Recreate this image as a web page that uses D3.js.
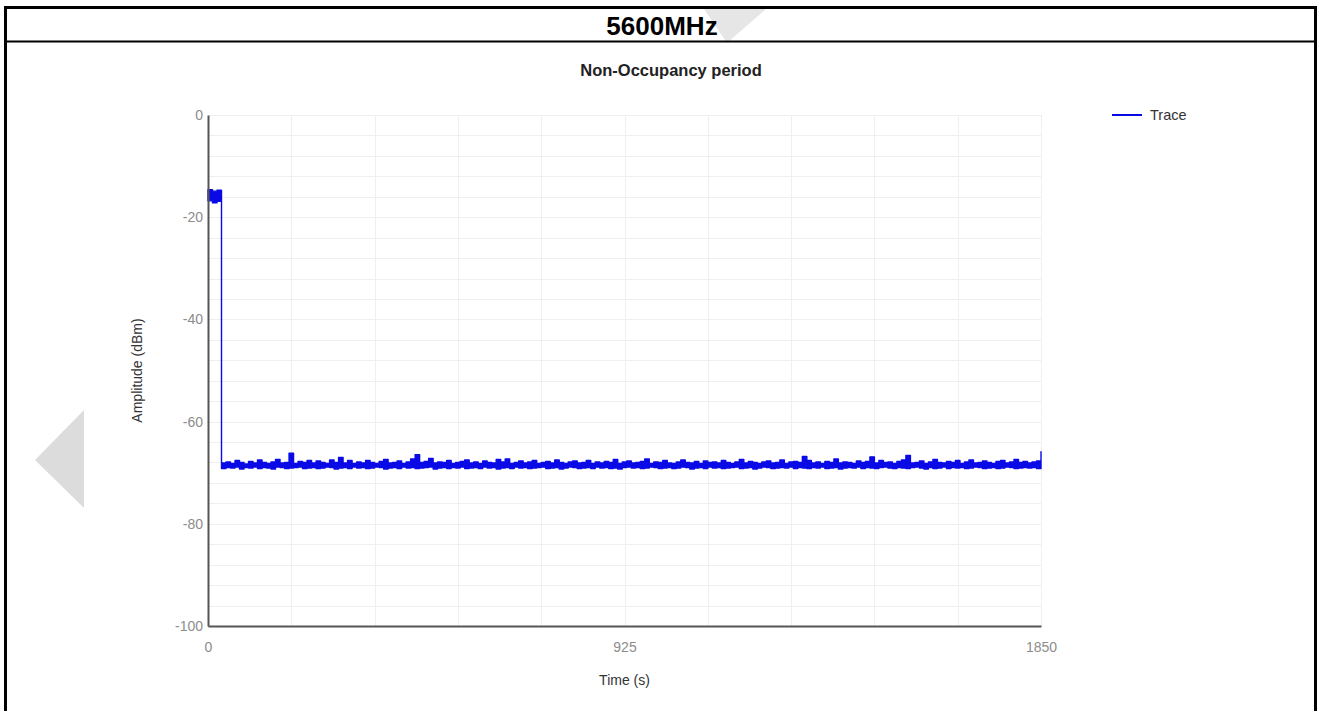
<!DOCTYPE html>
<html>
<head>
<meta charset="utf-8">
<script src="https://cdn.jsdelivr.net/npm/d3@7"></script>
<style>
  body { margin: 0; background: #fff; }
  svg { display: block; font-family: "Liberation Sans", Arial, sans-serif; }
</style>
</head>
<body>
<div id="chart"></div>
<script>
// Trace sampled every 10 s : max and min of each bin (decimated display)
const sampleStep = 10;
const traceHigh = [
  -14.6, -14.9, -14.7,
  -68.1, -67.9, -68.2, -67.6, -68.0, -68.3, -67.8, -68.1, -67.5, -68.0,
  -68.2, -67.9, -67.4, -68.1, -68.0, -66.2, -68.2, -67.8, -68.0, -67.6,
  -68.1, -67.7, -68.0, -68.2, -67.5, -68.0, -67.0, -68.1, -67.6, -68.2,
  -67.9, -68.1, -67.6, -68.0, -68.2, -67.8, -67.4, -68.1, -68.0, -67.7,
  -68.2, -67.9, -67.3, -66.5, -68.0, -67.8, -67.2, -68.1, -67.9, -68.0,
  -67.6, -68.2, -68.0, -67.8, -67.5, -68.1, -67.9, -68.2, -67.7, -68.0,
  -68.1, -67.4, -67.9, -67.3, -68.2, -68.0, -67.7, -68.1, -67.9, -67.6,
  -68.2, -68.0, -67.8, -68.1, -67.5, -68.0, -68.2, -67.9, -67.7, -68.1,
  -68.0, -67.6, -68.2, -67.9, -68.1, -67.8, -68.0, -67.4, -68.2, -67.9,
  -67.7, -68.1, -68.0, -67.8, -67.3, -68.2, -67.9, -68.0, -67.6, -68.1,
  -68.2, -67.9, -67.5, -68.0, -68.1, -67.8, -68.2, -67.7, -68.0, -67.9,
  -68.1, -67.6, -68.0, -68.2, -67.9, -67.4, -68.1, -67.8, -68.0, -68.2,
  -67.9, -67.7, -68.1, -68.0, -67.5, -68.2, -67.9, -67.8, -68.0, -66.8,
  -67.6, -68.1, -67.9, -68.2, -67.8, -68.0, -67.3, -68.1, -67.9, -68.0,
  -68.2, -67.7, -68.0, -67.8, -66.9, -68.1, -67.6, -68.0, -67.9, -68.2,
  -67.8, -67.5, -66.6, -68.1, -68.0, -67.7, -68.2, -67.9, -67.4, -68.0,
  -68.1, -67.8, -68.0, -67.6, -68.2, -67.9, -67.5, -68.1, -68.0, -67.7,
  -68.0, -68.2, -67.8, -67.6, -68.1, -67.9, -67.4, -68.0, -67.8, -68.1,
  -67.9, -67.7, -65.9
];
const traceLow = [
  -16.8, -17.2, -16.9,
  -69.2, -69.0, -69.1, -68.9, -69.3, -69.0, -69.1, -68.9, -69.2, -69.0,
  -69.1, -69.3, -68.9, -69.0, -69.2, -69.1, -69.0, -68.9, -69.2, -69.1,
  -69.0, -69.2, -69.1, -68.9, -69.0, -69.3, -69.1, -69.0, -69.2, -68.9,
  -69.1, -69.0, -69.2, -69.1, -68.9, -69.0, -69.3, -69.1, -69.0, -69.2,
  -68.9, -69.1, -69.0, -69.2, -69.1, -69.0, -68.9, -69.3, -69.1, -69.0,
  -69.2, -69.0, -69.1, -68.9, -69.2, -69.1, -69.0, -69.2, -68.9, -69.1,
  -69.0, -69.3, -69.1, -69.0, -69.2, -68.9, -69.1, -69.0, -69.2, -69.1,
  -69.0, -68.9, -69.2, -69.1, -69.0, -69.3, -69.1, -68.9, -69.0, -69.2,
  -69.1, -69.0, -69.2, -68.9, -69.1, -69.0, -69.2, -69.1, -69.3, -69.0,
  -68.9, -69.1, -69.0, -69.2, -69.1, -68.9, -69.0, -69.2, -69.1, -69.0,
  -69.2, -69.1, -68.9, -69.0, -69.3, -69.1, -69.0, -69.2, -68.9, -69.1,
  -69.0, -69.2, -69.1, -69.0, -68.9, -69.2, -69.1, -69.0, -69.3, -69.1,
  -68.9, -69.0, -69.2, -69.1, -69.0, -69.1, -68.9, -69.2, -69.0, -69.1,
  -69.2, -69.0, -69.1, -68.9, -69.2, -69.1, -69.0, -69.3, -69.1, -69.0,
  -69.1, -68.9, -69.2, -69.0, -69.1, -69.2, -69.0, -68.9, -69.1, -69.2,
  -69.0, -69.1, -69.2, -69.0, -68.9, -69.1, -69.3, -69.0, -69.2, -69.1,
  -68.9, -69.2, -69.0, -69.1, -69.0, -69.2, -69.1, -68.9, -69.0, -69.2,
  -69.1, -69.0, -69.2, -69.1, -68.9, -69.0, -69.2, -69.1, -69.0, -69.1,
  -69.0, -69.2, -69.1
];

const xTicks = [0, 925, 1850];
const yTicks = [0, -20, -40, -60, -80, -100];
const xGrid = [0, 185, 370, 555, 740, 925, 1110, 1295, 1480, 1665, 1850];
const yGrid = d3.range(0, -101, -4);

const pageTitle = "5600MHz";
const chartTitle = "Non-Occupancy period";
const xLabel = "Time (s)";
const yLabel = "Amplitude (dBm)";
const seriesName = "Trace";

const W = 1322, H = 711;
const margin = { top: 115, right: 281, bottom: 85, left: 208 };
const traceColor = "#0a0ae6";

const svg = d3.select("#chart").append("svg")
  .attr("width", W)
  .attr("height", H);

// watermark shapes behind everything
svg.append("polygon")
  .attr("points", "35,460 84,410 84,508")
  .attr("fill", "#dcdcdc");
svg.append("polygon")
  .attr("points", "704,9 766,9 727,43")
  .attr("fill", "#e6e6e6");

// page frame + header row
svg.append("rect")
  .attr("x", 5.5).attr("y", 7.5)
  .attr("width", 1310).attr("height", 720)
  .attr("fill", "none")
  .attr("stroke", "#000")
  .attr("stroke-width", 3);
svg.append("line")
  .attr("x1", 5).attr("x2", 1316)
  .attr("y1", 41.5).attr("y2", 41.5)
  .attr("stroke", "#000")
  .attr("stroke-width", 2);
svg.append("text")
  .attr("x", 662).attr("y", 35)
  .attr("text-anchor", "middle")
  .attr("font-size", "26px")
  .attr("font-weight", "bold")
  .text(pageTitle);

const x = d3.scaleLinear().domain([0, 1850]).range([margin.left, W - margin.right]);
const y = d3.scaleLinear().domain([-100, 0]).range([H - margin.bottom, margin.top]);

// chart title
svg.append("text")
  .attr("x", 671).attr("y", 76)
  .attr("text-anchor", "middle")
  .attr("font-size", "16.5px")
  .attr("font-weight", "bold")
  .attr("fill", "#222")
  .text(chartTitle);

// gridlines
const grid = svg.append("g").attr("stroke", "#efefef").attr("stroke-width", 1);
grid.selectAll("line.h").data(yGrid).enter().append("line")
  .attr("x1", x(0)).attr("x2", x(1850))
  .attr("y1", d => Math.round(y(d)) + 0.5).attr("y2", d => Math.round(y(d)) + 0.5);
grid.selectAll("line.v").data(xGrid).enter().append("line")
  .attr("y1", y(0)).attr("y2", y(-100))
  .attr("x1", d => Math.round(x(d)) + 0.5).attr("x2", d => Math.round(x(d)) + 0.5);

// trace : envelope between min and max of each bin, held until the next bin
const bins = traceHigh.map(function (v, i) {
  return { t: i * sampleStep, hi: v, lo: traceLow[i] };
});
const band = d3.area()
  .curve(d3.curveStepAfter)
  .x(d => x(d.t))
  .y0(d => y(d.lo))
  .y1(d => y(d.hi));
svg.append("path")
  .datum(bins)
  .attr("d", band)
  .attr("fill", traceColor)
  .attr("stroke", traceColor)
  .attr("stroke-width", 1.4)
  .attr("stroke-linejoin", "round");

// axes
const fmt = d => String(d);
const yAxis = svg.append("g")
  .attr("transform", "translate(" + x(0) + ",0)")
  .call(d3.axisLeft(y).tickValues(yTicks).tickFormat(fmt).tickSize(0).tickPadding(5));
const xAxis = svg.append("g")
  .attr("transform", "translate(0," + y(-100) + ")")
  .call(d3.axisBottom(x).tickValues(xTicks).tickFormat(fmt).tickSize(0).tickPadding(16));
[xAxis, yAxis].forEach(function (a) {
  a.select(".domain").attr("stroke", "#555").attr("stroke-width", 2);
  a.selectAll("text")
    .attr("fill", "#8c8c8c")
    .attr("font-size", "14px")
    .attr("font-family", "Liberation Sans, Arial, sans-serif");
});

// axis titles
svg.append("text")
  .attr("x", x(925)).attr("y", 685)
  .attr("text-anchor", "middle")
  .attr("font-size", "14px")
  .attr("fill", "#333")
  .text(xLabel);
svg.append("text")
  .attr("transform", "translate(142," + y(-50) + ") rotate(-90)")
  .attr("text-anchor", "middle")
  .attr("font-size", "14px")
  .attr("fill", "#333")
  .text(yLabel);

// legend
const legend = svg.append("g").attr("transform", "translate(1112,115)");
legend.append("line")
  .attr("x1", 0).attr("x2", 30)
  .attr("stroke", traceColor)
  .attr("stroke-width", 2);
legend.append("text")
  .attr("x", 38).attr("y", 5)
  .attr("font-size", "14.5px")
  .attr("fill", "#333")
  .text(seriesName);
</script>
</body>
</html>
